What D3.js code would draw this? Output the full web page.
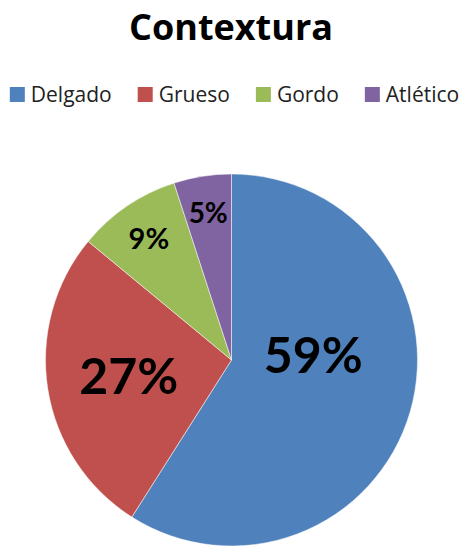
<!DOCTYPE html>
<html>
<head>
<meta charset="utf-8">
<script src="https://cdn.jsdelivr.net/npm/d3@7"></script>
<style>
  body { margin: 0; background: #fff; }
  text { font-family: Lato, "Open Sans", sans-serif; }
  .title, .legend text { font-family: "Open Sans", sans-serif; }
</style>
</head>
<body>
<svg width="461" height="548"></svg>
<script>
var categories = ['Delgado', 'Grueso', 'Gordo', 'Atlético'],
    values = [59, 27, 9, 5],
    colors = ['#4F81BD', '#C0504D', '#9BBB59', '#8064A2'];

// label placement (fraction of radius, angle nudge in degrees, font size)
var labelRadius = [0.44, 0.56, 0.79, 0.80],
    labelNudge = [-19.7, 0, 0, 0],
    labelSize = [50, 50, 29, 28];

var svg = d3.select('svg'),
    width = +svg.attr('width'),
    height = +svg.attr('height'),
    cx = 231.5,
    cy = 360,
    radius = 186;

svg.append('text')
   .attr('class', 'title')
   .attr('x', 231)
   .attr('y', 40)
   .attr('text-anchor', 'middle')
   .attr('font-size', 36)
   .attr('font-weight', 'bold')
   .text('Contextura');

// legend
var legend = svg.append('g').attr('class', 'legend');
var items = legend.selectAll('g')
                  .data(categories)
                  .enter().append('g');

items.append('rect')
     .attr('width', 15)
     .attr('height', 15)
     .attr('y', 87)
     .attr('fill', function(d, i) { return colors[i]; });

items.append('text')
     .attr('x', 21)
     .attr('y', 102)
     .attr('font-size', 21)
     .attr('fill', '#222')
     .text(function(d) { return d; });

var xpos = 0;
items.each(function() {
  var g = d3.select(this);
  g.attr('transform', 'translate(' + xpos + ',0)');
  xpos += 21 + g.select('text').node().getComputedTextLength() + 26;
});
var legendW = xpos - 26;
legend.attr('transform', 'translate(' + (234.5 - legendW / 2) + ',0)');

// pie
var pie = d3.pie().sort(null).value(function(d) { return d; });
var arc = d3.arc().innerRadius(0).outerRadius(radius);
var arcs = pie(values);

var chart = svg.append('g').attr('transform', 'translate(' + cx + ',' + cy + ')');

chart.selectAll('path')
     .data(arcs)
     .enter().append('path')
     .attr('d', arc)
     .attr('fill', function(d, i) { return colors[i]; })
     .attr('stroke', '#fff')
     .attr('stroke-width', 0.5);

chart.selectAll('text.lbl')
     .data(arcs)
     .enter().append('text')
     .attr('class', 'lbl')
     .attr('transform', function(d, i) {
       var a = (d.startAngle + d.endAngle) / 2 + labelNudge[i] * Math.PI / 180,
           r = radius * labelRadius[i];
       return 'translate(' + (r * Math.sin(a)) + ',' + (-r * Math.cos(a)) + ')';
     })
     .attr('dy', '0.36em')
     .attr('text-anchor', 'middle')
     .attr('font-size', function(d, i) { return labelSize[i]; })
     .attr('font-weight', 'bold')
     .text(function(d) { return d.data + '%'; });
</script>
</body>
</html>
